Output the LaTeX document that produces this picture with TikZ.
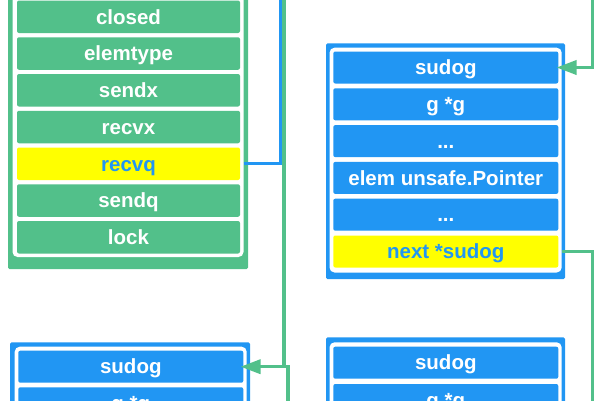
\documentclass[tikz,border=0pt]{standalone}
\usepackage{fontspec}
\setmainfont{Liberation Sans}
\usetikzlibrary{arrows.meta}
\definecolor{cgreen}{RGB}{82,192,138}
\definecolor{cblue}{RGB}{33,150,243}
\definecolor{cyellow}{RGB}{255,255,0}
\begin{document}
\begin{tikzpicture}[x=1pt,y=-1pt,
  cell/.style={rectangle, rounded corners=2pt, inner sep=0pt, text height=14.5pt, text depth=0pt,
    font=\fontsize{20.5}{20.5}\selectfont\bfseries, text=white},
  gcell/.style={cell, fill=cgreen, minimum width=223pt, minimum height=32.5pt},
  bcell/.style={cell, fill=cblue, minimum width=225pt, minimum height=32pt},
  hl/.style={fill=cyellow, text=cblue},
  gbox/.style={fill=cgreen, rounded corners=1.5pt},
  bbox/.style={fill=cblue, rounded corners=1.5pt},
  wbox/.style={fill=white, rounded corners=5pt},
  gline/.style={draw=cgreen, line width=3.5pt},
  bline/.style={draw=cblue, line width=3pt},
  arrowed/.style={-{Triangle[length=20pt,width=14pt]}},
]
\useasboundingbox (0,0) rectangle (600,400);
\clip (0,0) rectangle (600,400);

% left green panel (hchan)
\fill[gbox] (8,-20) rectangle (248,269);
\fill[wbox] (12.5,-16) rectangle (243.5,257);
\node[gcell] (closed)   at (128.5,16.75)  {closed};
\node[gcell] (elemtype) at (128.5,53.5)   {elemtype};
\node[gcell] (sendx)    at (128.5,90.25)  {sendx};
\node[gcell] (recvx)    at (128.5,127)    {recvx};
\node[gcell,hl] (recvq) at (128.5,163.75) {recvq};
\node[gcell] (sendq)    at (128.5,200.5)  {sendq};
\node[gcell] (lock)     at (128.5,237.25) {lock};

% top right sudog
\fill[bbox] (326,43.3) rectangle (565,279);
\fill[wbox] (329.5,47.7) rectangle (561.7,272.5);
\node[bcell] (tsudog) at (445.8,67.5)  {sudog};
\node[bcell] (tg)     at (445.8,104.3) {g *g};
\node[bcell] (tdotsa) at (445.8,141.1) {...};
\node[bcell] (telem)  at (445.8,177.9) {elem unsafe.Pointer};
\node[bcell] (tdotsb) at (445.8,214.7) {...};
\node[bcell,hl] (tnext) at (445.8,251.5) {next *sudog};

% bottom left sudog
\fill[bbox] (10,342.3) rectangle (250,520);
\fill[wbox] (14.7,346.7) rectangle (246.7,515);
\node[bcell] (lsudog) at (130.8,366.7) {sudog};
\node[bcell] (lg)     at (130.8,403.3) {g *g};

% bottom right sudog
\fill[bbox] (326,337.3) rectangle (565,520);
\fill[wbox] (329.5,342.3) rectangle (561.7,515);
\node[bcell] (rsudog) at (445.8,362.7) {sudog};
\node[bcell] (rg)     at (445.8,400)   {g *g};

% connectors
\coordinate (btop) at (280.5,-10);
\coordinate (g1top) at (284,-10);
\coordinate (g2bot) at (288,420);
\coordinate (g3top) at (592.5,-10);
\coordinate (g4bot) at (592.5,420);

\draw[bline, shorten <=3.5pt] (recvq.east) -| (btop);
\draw[gline, shorten >=10pt] (g2bot) |- (lsudog.east);
\draw[gline, arrowed, shorten >=-3pt] (g1top) |- (lsudog.east);
\draw[gline, arrowed, shorten >=-2pt] (g3top) |- (tsudog.east);
\draw[gline, shorten <=3pt] (tnext.east) -| (g4bot);
\end{tikzpicture}
\end{document}
